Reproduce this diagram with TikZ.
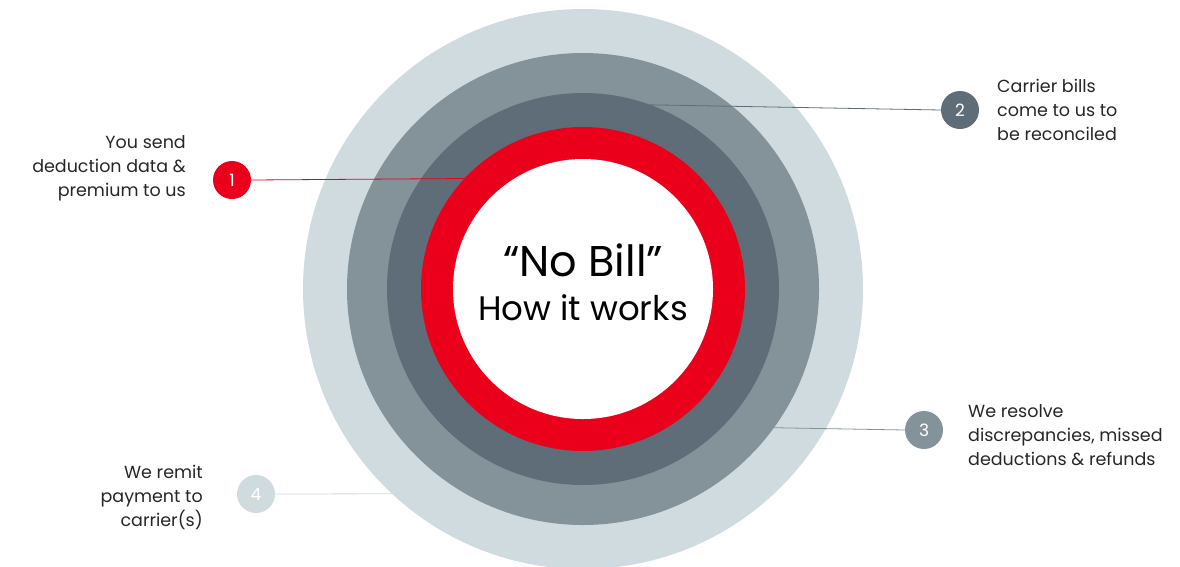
\documentclass[tikz,border=0pt]{standalone}
\usepackage{fontspec}
\setmainfont{Poppins}
\usetikzlibrary{positioning}
\definecolor{ringpale}{HTML}{CFDBDF}
\definecolor{ringmid}{HTML}{84939A}
\definecolor{ringdark}{HTML}{5E6D77}
\definecolor{ringred}{HTML}{EB001B}
\tikzset{
  ring/.style={circle,inner sep=0pt,outer sep=0pt},
  num/.style={circle,minimum size=38pt,inner sep=0pt,outer sep=0pt,text=white,font=\fontsize{17}{18}\selectfont},
  lbl/.style={inner sep=0pt,font=\fontsize{17.5}{24}\selectfont,text=black!85},
  link/.style={line width=0.8pt}
}
\begin{document}
\begin{tikzpicture}[x=1pt,y=-1pt]
\useasboundingbox (0,0) rectangle (1180,566);
% the rings, outside in
\node[ring,fill=ringpale,minimum size=560pt](pale) at (583,289){};
\node[ring,fill=ringmid,minimum size=472pt](mid) at (583,289){};
\node[ring,fill=ringdark,minimum size=392pt](dark) at (583,289){};
\node[ring,fill=ringred,minimum size=324pt](red) at (583,289){};
\node[ring,fill=white,minimum size=260pt](hub) at (583,289){};
\node[align=center,font=\fontsize{34}{44}\selectfont,yshift=7pt](title) at (hub){{\fontsize{43}{44}\selectfont ``No Bill''}\\How it works};
% steps
\node[num,fill=ringred](n1) at (232,180){1};
\node[num,fill=ringdark](n2) at (960,110){2};
\node[num,fill=ringmid](n3) at (924,430){3};
\node[num,fill=ringpale](n4) at (256,494){4};
\node[lbl,align=right,left=27pt of n1,yshift=12pt](t1){You send\\deduction data \&\\premium to us};
\node[lbl,align=left,right=18pt of n2](t2){Carrier bills\\come to us to\\be reconciled};
\node[lbl,align=left,right=25pt of n3,yshift=-5pt](t3){We resolve\\discrepancies, missed\\deductions \& refunds};
\node[lbl,align=right,left=34pt of n4,yshift=-3pt](t4){We remit\\payment to\\carrier(s)};
\draw[link,ringred](n1.east)--(red.137);
\draw[link,ringdark](n2.west)--(dark.70);
\draw[link,ringmid](n3.west)--(mid.-36);
\draw[link,ringpale](n4.east)--(pale.227);
\end{tikzpicture}
\end{document}
